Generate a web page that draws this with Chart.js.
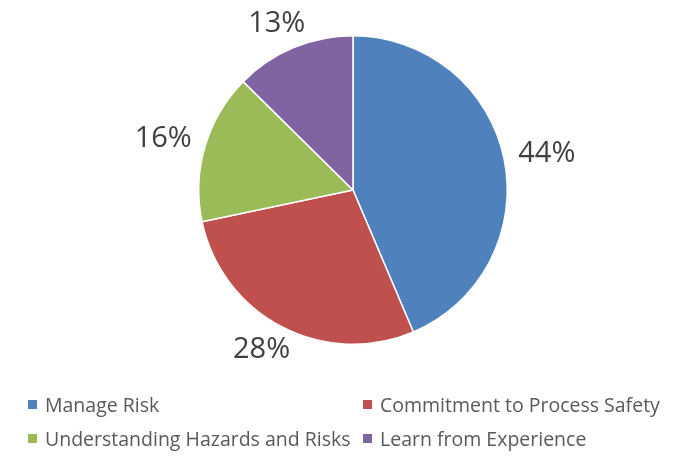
<!DOCTYPE html>
<html>
<head>
<meta charset="utf-8">
<script src="https://cdn.jsdelivr.net/npm/chart.js@4/dist/chart.umd.min.js"></script>
<style>
    body { margin: 0; background: #fff; }
    #wrap { position: relative; width: 690px; height: 456px; }
    #legend { position: absolute; left: 0; top: 390px; width: 690px; font-family: "Open Sans", sans-serif; font-size: 19.5px; color: #595959; }
    .item { position: absolute; white-space: nowrap; line-height: 24px; }
    .box { display: inline-block; width: 9px; height: 9px; margin-right: 8px; vertical-align: 3px; }
</style>
</head>
<body>
<div id="wrap">
    <canvas id="pie-chart" width="690" height="456"></canvas>
    <div id="legend"></div>
</div>
<script>
const categories = ['Manage Risk', 'Commitment to Process Safety', 'Understanding Hazards and Risks', 'Learn from Experience'];
const shares = [43.6, 28.1, 15.7, 12.6];
const colors = ['#4F81BD', '#C0504D', '#9BBB59', '#8064A2'];

// percent labels sit outside each slice, text box pushed out along the mid angle
const outsideLabels = {
    id: 'outsideLabels',
    afterDatasetsDraw(chart) {
        const ctx = chart.ctx;
        const meta = chart.getDatasetMeta(0);
        ctx.save();
        ctx.font = '29px "Open Sans", sans-serif';
        ctx.fillStyle = '#404040';
        ctx.textAlign = 'center';
        ctx.textBaseline = 'middle';
        meta.data.forEach((arc, i) => {
            const text = Math.round(shares[i]) + '%';
            const w = ctx.measureText(text).width;
            const h = 22;
            const mid = (arc.startAngle + arc.endAngle) / 2;
            const r = arc.outerRadius + 15;
            const x = arc.x + Math.cos(mid) * r + Math.cos(mid) * w / 2;
            const y = arc.y + Math.sin(mid) * r + Math.sin(mid) * h / 2;
            ctx.fillText(text, x, y);
        });
        ctx.restore();
    }
};

new Chart(document.getElementById('pie-chart'), {
    type: 'pie',
    data: {
        labels: categories,
        datasets: [{
            data: shares,
            backgroundColor: colors,
            borderColor: '#ffffff',
            borderWidth: 1.5
        }]
    },
    options: {
        responsive: false,
        animation: false,
        layout: { padding: { left: 20, right: 4, top: 35, bottom: 111 } },
        plugins: {
            legend: { display: false },
            tooltip: { enabled: false }
        }
    },
    plugins: [outsideLabels]
});

const legendPos = [[28, 3], [363, 3], [28, 37], [363, 37]];
const legend = document.getElementById('legend');
categories.forEach((name, i) => {
    const div = document.createElement('div');
    div.className = 'item';
    div.style.left = legendPos[i][0] + 'px';
    div.style.top = legendPos[i][1] + 'px';
    div.innerHTML = `<span class="box" style="background:${colors[i]}"></span>${name}`;
    legend.appendChild(div);
});
</script>
</body>
</html>
